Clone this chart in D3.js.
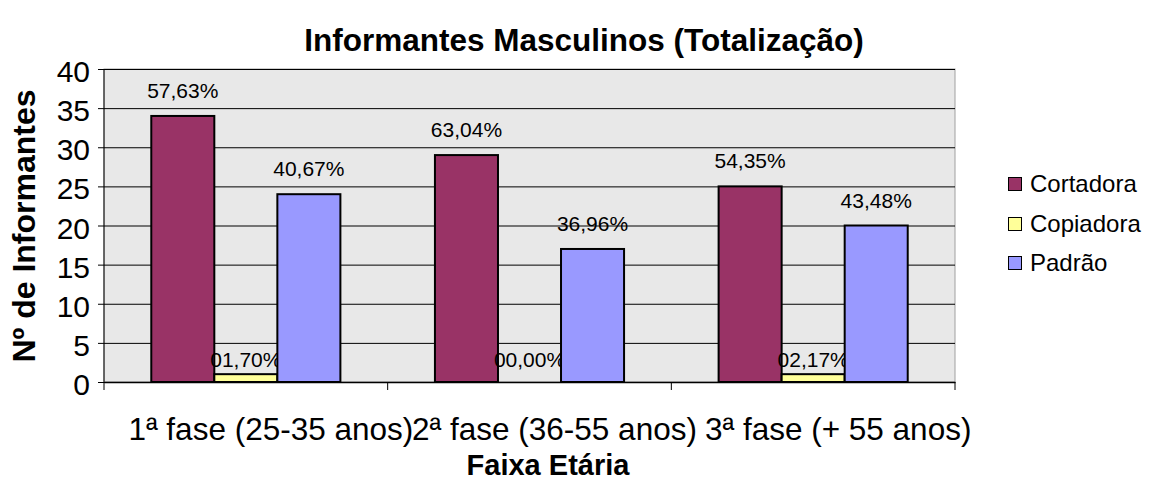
<!DOCTYPE html>
<html><head><meta charset="utf-8">
<script src="https://cdn.jsdelivr.net/npm/d3@7"></script>
<style>
html,body{margin:0;padding:0;background:#fff;}
text{font-family:"Liberation Sans",Arial,sans-serif;fill:#000;}
</style></head>
<body>
<svg id="chart" width="1151" height="482"></svg>
<script>
const categories = ["1ª fase (25-35 anos)", "2ª fase (36-55 anos)", "3ª fase (+ 55 anos)"];
const seriesNames = ["Cortadora", "Copiadora", "Padrão"];
const cortadora = [34, 29, 25];
const copiadora = [1, 0, 1];
const padrao = [24, 17, 20];
const cortadoraLabels = ["57,63%", "63,04%", "54,35%"];
const copiadoraLabels = ["01,70%", "00,00%", "02,17%"];
const padraoLabels = ["40,67%", "36,96%", "43,48%"];
const yTicks = [0, 5, 10, 15, 20, 25, 30, 35, 40];
const colors = ["#993366", "#ffff99", "#9999ff"];

const series = [
  {name: seriesNames[0], values: cortadora, labels: cortadoraLabels, color: colors[0]},
  {name: seriesNames[1], values: copiadora, labels: copiadoraLabels, color: colors[1]},
  {name: seriesNames[2], values: padrao, labels: padraoLabels, color: colors[2]}
];

const FONT = "'Liberation Sans',Arial,sans-serif";
const svg = d3.select("#chart");
const L = 104, R = 955, T = 69, B = 382;

const x0 = d3.scaleBand().domain(categories).range([L, R]).paddingInner(0).paddingOuter(0);
const x1 = d3.scaleBand().domain(seriesNames).range([0, x0.bandwidth()]).paddingInner(0).paddingOuter(0.75);
const y = d3.scaleLinear().domain([0, 40]).range([B, T]);

// plot background
svg.append("rect").attr("x", L).attr("y", T).attr("width", R - L).attr("height", B - T)
  .attr("fill", "#e8e8e8").attr("stroke", "#a0a0a0").attr("stroke-width", 1);

// gridlines with left tick extension
const yAxis = d3.axisLeft(y).tickValues(yTicks).tickSize(-(R - L)).tickSizeOuter(0).tickPadding(14)
  .tickFormat(d3.format("d"));
const gy = svg.append("g").attr("transform", `translate(${L},0)`).call(yAxis);
gy.select(".domain").remove();
gy.selectAll(".tick line").attr("stroke", "#000").attr("stroke-width", 1).attr("x1", -6);
gy.selectAll(".tick text").attr("font-size", 30).attr("font-family", FONT).attr("fill", "#000")
  .attr("dy", "0.42em");

// bars
const groups = svg.append("g").selectAll("g").data(series).join("g");
groups.selectAll("rect").data(s => s.values.map((v, i) => ({v, i, s})))
  .join("rect")
  .attr("x", d => x0(categories[d.i]) + x1(d.s.name))
  .attr("y", d => y(d.v))
  .attr("width", x1.bandwidth())
  .attr("height", d => y(0) - y(d.v))
  .attr("fill", d => d.s.color)
  .attr("stroke", "#000").attr("stroke-width", 2);

// y axis line
svg.append("line").attr("x1", L).attr("x2", L).attr("y1", T).attr("y2", B).attr("stroke", "#000").attr("stroke-width", 1);

// x axis
const xAxis = d3.axisBottom(x0).tickSize(0).tickPadding(0);
const gx = svg.append("g").attr("transform", `translate(0,${B})`).call(xAxis);
gx.select(".domain").attr("stroke", "#000").attr("stroke-width", 1.5);
gx.selectAll(".tick text").attr("font-size", 31.5).attr("font-family", FONT).attr("fill", "#000")
  .attr("dy", null).attr("y", 58).attr("x", 25);
// category boundary ticks
const bounds = categories.map(c => x0(c)).concat([R]);
svg.append("g").selectAll("line").data(bounds).join("line")
  .attr("x1", d => d).attr("x2", d => d).attr("y1", B).attr("y2", B + 8)
  .attr("stroke", "#000").attr("stroke-width", 1);

// data labels
groups.selectAll("text.lbl").data(s => s.values.map((v, i) => ({v, i, s})))
  .join("text").attr("class", "lbl")
  .attr("x", d => x0(categories[d.i]) + x1(d.s.name) + x1.bandwidth() / 2)
  .attr("y", d => d.v < 2 ? y(0) - 15 : y(d.v) - 18)
  .attr("text-anchor", "middle").attr("font-size", 21)
  .text(d => d.s.labels[d.i]);

// title
svg.append("text").attr("x", 584).attr("y", 51).attr("text-anchor", "middle")
  .attr("font-size", 31.5).attr("font-weight", "bold").text("Informantes Masculinos (Totalização)");

// axis titles
svg.append("text").attr("transform", `translate(35,226) rotate(-90)`).attr("text-anchor", "middle")
  .attr("font-size", 32).attr("font-weight", "bold").text("Nº de Informantes");
svg.append("text").attr("x", 548).attr("y", 475).attr("text-anchor", "middle")
  .attr("font-size", 29).attr("font-weight", "bold").text("Faixa Etária");

// legend
const lg = svg.append("g").attr("transform", "translate(1008,0)");
const ly = [184, 224, 263];
const items = lg.selectAll("g").data(series).join("g").attr("transform", (d, i) => `translate(0,${ly[i]})`);
items.append("rect").attr("x", 0.5).attr("y", -6.5).attr("width", 13).attr("height", 13)
  .attr("fill", d => d.color).attr("stroke", "#000").attr("stroke-width", 1);
items.append("text").attr("x", 22).attr("y", 8).attr("font-size", 24).text(d => d.name);
</script>
</body></html>
